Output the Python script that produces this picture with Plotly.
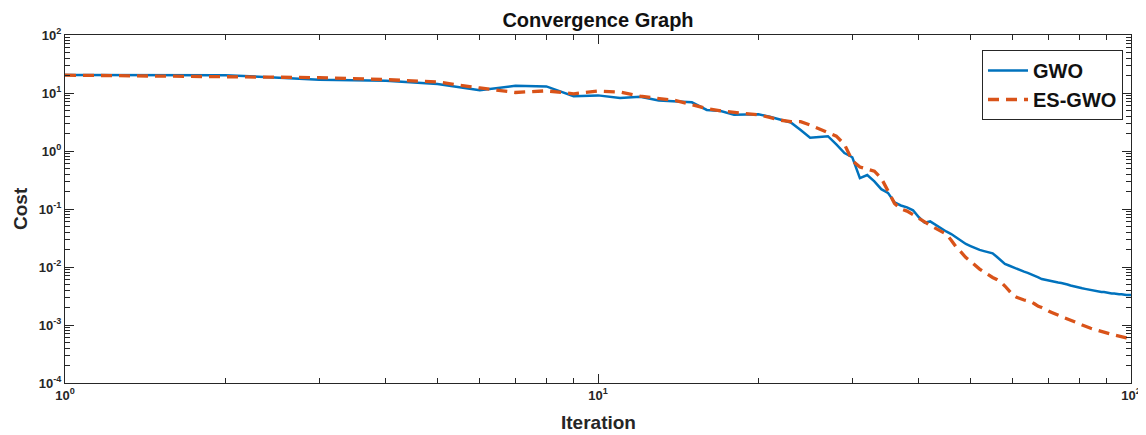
import plotly.graph_objects as go

iterations = list(range(1, 101))

gwo_cost = [
    20.5, 20.3, 17.0, 16.2, 14.3, 11.2, 13.3, 13.0, 8.8, 9.1,
    8.2, 8.6, 7.4, 7.1, 6.9, 5.1, 4.9, 4.2, 4.3, 4.3,
    3.9, 3.5, 3.1, 2.3, 1.7, 1.75, 1.8, 1.3, 0.92, 0.78,
    0.34, 0.385, 0.30, 0.22, 0.19, 0.13, 0.115, 0.107, 0.095, 0.072,
    0.058, 0.061, 0.053, 0.046, 0.041, 0.037, 0.032, 0.028, 0.025, 0.023,
    0.021, 0.0197, 0.0188, 0.0180, 0.0172, 0.0150, 0.0130, 0.0113, 0.0106, 0.0099,
    0.0093, 0.0088, 0.0083, 0.0079, 0.0075, 0.0070, 0.0066, 0.0062, 0.0060, 0.0058,
    0.0057, 0.0055, 0.0054, 0.0053, 0.0052, 0.0050, 0.0048, 0.0047, 0.0046, 0.0044,
    0.0043, 0.0042, 0.0041, 0.0040, 0.0040, 0.0039, 0.0038, 0.0037, 0.0037, 0.0036,
    0.0036, 0.0035, 0.0035, 0.0034, 0.0034, 0.0034, 0.0033, 0.0033, 0.0033, 0.0033,
]

esgwo_cost = [
    20.3, 19.3, 18.4, 17.0, 15.5, 12.2, 10.2, 10.9, 9.7, 10.8,
    10.4, 8.8, 8.1, 7.4, 6.3, 5.4, 4.9, 4.6, 4.4, 4.2,
    3.8, 3.4, 3.2, 3.2, 2.8, 2.4, 2.1, 1.8, 1.3, 0.68,
    0.53, 0.49, 0.45, 0.34, 0.20, 0.125, 0.10, 0.092, 0.080, 0.068,
    0.060, 0.052, 0.046, 0.042, 0.037, 0.029, 0.022, 0.018, 0.0145, 0.0125,
    0.0105, 0.0092, 0.0082, 0.0072, 0.0066, 0.0061, 0.0055, 0.0047, 0.0040, 0.0033,
    0.0030, 0.0028, 0.0027, 0.0026, 0.0025, 0.0023, 0.0021, 0.0020, 0.0019, 0.00175,
    0.00165, 0.00155, 0.00147, 0.0014, 0.00133, 0.00127, 0.00122, 0.00115, 0.0011, 0.00105,
    0.0010, 0.00095, 0.00091, 0.00088, 0.00085, 0.00082, 0.00080, 0.00078, 0.00076, 0.00073,
    0.00071, 0.00069, 0.00067, 0.00065, 0.00064, 0.00062, 0.00061, 0.00060, 0.00059, 0.00058,
]

x_tick_vals = [1, 10, 100]
x_tick_text = ["10<sup>0</sup>", "10<sup>1</sup>", "10<sup>2</sup>"]
y_tick_vals = [1e-4, 1e-3, 1e-2, 1e-1, 1e0, 1e1, 1e2]
y_tick_text = ["10<sup>-4</sup>", "10<sup>-3</sup>", "10<sup>-2</sup>", "10<sup>-1</sup>",
               "10<sup>0</sup>", "10<sup>1</sup>", "10<sup>2</sup>"]

x_minor = [m * 10 ** e for e in range(0, 2) for m in range(2, 10)]
y_minor = [m * 10 ** e for e in range(-4, 2) for m in range(2, 10)]

AX = "#262626"
FONT = "Liberation Sans, Arial, Helvetica, sans-serif"

# the page body has an 8px default margin, so the figure is sized to fit after it
W, H = 1138, 427
ML, MR, MT, MB = 57, 15, 27, 52
PW, PH = W - ML - MR, H - MT - MB

fig = go.Figure()
fig.add_trace(go.Scatter(
    x=iterations, y=gwo_cost, mode="lines", name="GWO",
    line=dict(color="#0072BD", width=2.5),
))
fig.add_trace(go.Scatter(
    x=iterations, y=esgwo_cost, mode="lines", name="ES-GWO",
    line=dict(color="#D95319", width=3.3, dash="11px,7px"),
))

axis_common = dict(
    type="log", showline=True, linecolor=AX, linewidth=1, mirror="ticks",
    ticks="inside", ticklen=9, tickcolor=AX, tickwidth=1,
    showgrid=False, zeroline=False,
    tickfont=dict(family=FONT, size=13, color=AX, weight="bold"),
    tickmode="array",
)

fig.update_xaxes(
    **axis_common,
    range=[0, 2], tickvals=x_tick_vals, ticktext=x_tick_text,
    minor=dict(tickmode="array", tickvals=x_minor, ticks="inside", ticklen=5,
               tickcolor=AX, tickwidth=1, showgrid=False),
)
fig.update_yaxes(
    **axis_common,
    range=[-4, 2], tickvals=y_tick_vals, ticktext=y_tick_text,
    minor=dict(tickmode="array", tickvals=y_minor, ticks="inside", ticklen=5,
               tickcolor=AX, tickwidth=1, showgrid=False),
)

label_font = dict(family=FONT, size=19, color=AX, weight="bold")
fig.add_annotation(text="Iteration", xref="paper", yref="paper",
                   x=0.5, y=-39 / PH,
                   xanchor="center", yanchor="middle", showarrow=False, font=label_font)
fig.add_annotation(text="Cost", xref="paper", yref="paper",
                   x=(12 - ML) / PW, y=0.5, textangle=-90,
                   xanchor="center", yanchor="middle", showarrow=False, font=label_font)

fig.update_layout(
    width=W, height=H,
    margin=dict(l=ML, r=MR, t=MT, b=MB, autoexpand=False),
    paper_bgcolor="white", plot_bgcolor="white",
    title=dict(text="Convergence Graph", x=0.5, xref="paper", xanchor="center",
               y=1 - 12 / H, yanchor="middle",
               font=dict(family=FONT, size=20, color="#111111", weight="bold")),
    legend=dict(x=(974 - ML) / PW, y=1 - (42 - MT) / PH, xanchor="left", yanchor="top",
                bgcolor="white", bordercolor=AX, borderwidth=1,
                font=dict(family=FONT, size=20, color="#111111", weight="bold"),
                itemwidth=40, tracegroupgap=0),
    showlegend=True,
)

fig.write_html("out.html")
